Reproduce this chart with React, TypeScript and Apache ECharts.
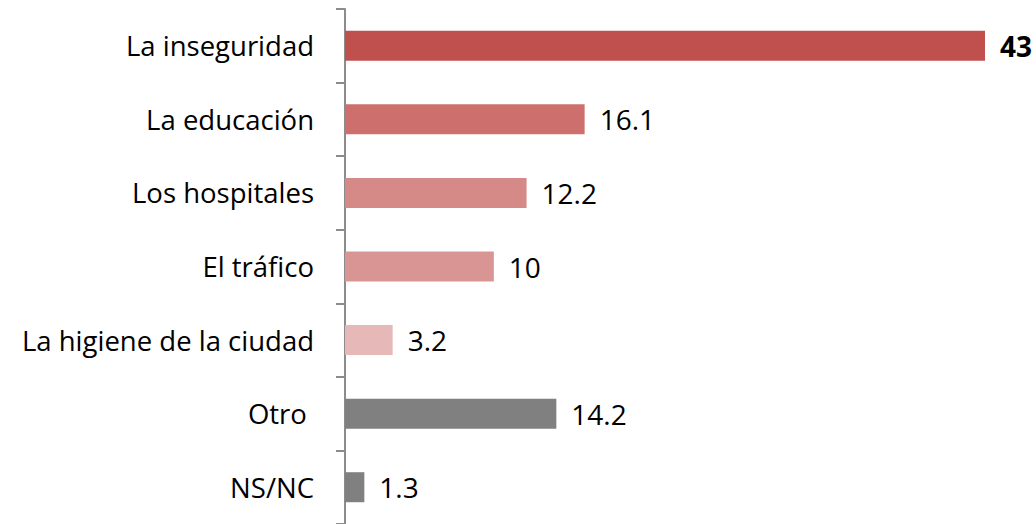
import React, { useEffect, useRef } from "react";
import * as echarts from "echarts";

const categories = [
  "La inseguridad",
  "La educación",
  "Los hospitales",
  "El tráfico",
  "La higiene de la ciudad",
  "Otro ",
  "NS/NC",
];
const values = [43, 16.1, 12.2, 10, 3.2, 14.2, 1.3];
const colors = ["#C0504D", "#CD706D", "#D68A88", "#D99594", "#E6B8B7", "#808080", "#808080"];

export default function App() {
  const ref = useRef<HTMLDivElement>(null);
  useEffect(() => {
    if (!ref.current) return;
    const chart = echarts.init(ref.current, null, { renderer: "svg" });
    const font = "'Open Sans', sans-serif";
    chart.setOption({
      animation: false,
      grid: { left: 345, right: 51, top: 9, bottom: -4, containLabel: false },
      xAxis: {
        type: "value",
        min: 0,
        max: 43,
        show: false,
      },
      yAxis: {
        type: "category",
        inverse: true,
        data: categories,
        axisLine: { show: true, lineStyle: { color: "#8C8C8C", width: 2 } },
        axisTick: { show: true, length: 9, lineStyle: { color: "#8C8C8C", width: 2 } },
        axisLabel: {
          color: "#000",
          fontSize: 27.5,
          fontFamily: font,
          margin: 31,
        },
        splitLine: { show: false },
      },
      series: [
        {
          type: "bar",
          barWidth: 30,
          data: values.map((v, i) => ({
            value: v,
            itemStyle: { color: colors[i] },
            label: {
              show: true,
              position: "right",
              distance: 15,
              color: "#000",
              fontSize: 28,
              fontFamily: font,
              fontWeight: i === 0 ? "bold" : "normal",
            },
          })),
        },
      ],
    });
    return () => chart.dispose();
  }, []);
  return (
    <div
      ref={ref}
      style={{ position: "absolute", left: 0, top: 0, width: 1036, height: 524, background: "#fff" }}
    />
  );
}
